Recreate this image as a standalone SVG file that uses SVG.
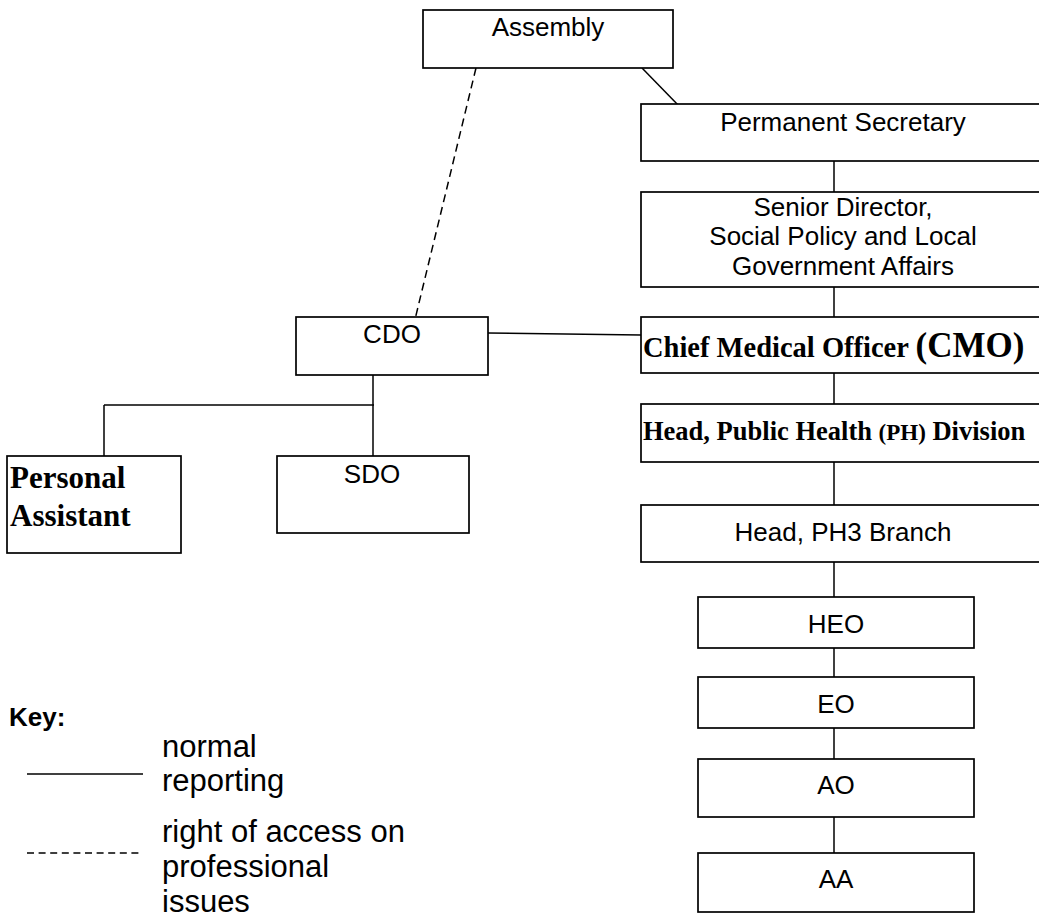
<svg xmlns="http://www.w3.org/2000/svg" width="1039" height="923" viewBox="0 0 1039 923">
  <style>
    .box { fill: #fff; stroke: #000; stroke-width: 1.7; }
    .ln { stroke: #000; stroke-width: 1.5; fill: none; }
    .dash { stroke: #000; stroke-width: 1.5; fill: none; stroke-dasharray: 8 5; }
    .t { font-family: "Liberation Sans", Arial, sans-serif; font-size: 26px; fill: #000; }
    .c { text-anchor: middle; }
    .tb { font-family: "Liberation Serif", "Times New Roman", serif; font-weight: bold; fill: #000; }
    .key { font-family: "Liberation Sans", Arial, sans-serif; font-size: 31px; fill: #000; }
  </style>

  <!-- connectors -->
  <g id="connectors">
    <line class="dash" x1="476" y1="68" x2="410" y2="340"/>
    <line class="ln" x1="642" y1="68" x2="680" y2="107"/>
    <line class="ln" x1="834" y1="156" x2="834" y2="194"/>
    <line class="ln" x1="834" y1="282" x2="834" y2="319"/>
    <line class="ln" x1="834" y1="368" x2="834" y2="407"/>
    <line class="ln" x1="834" y1="457" x2="834" y2="508"/>
    <line class="ln" x1="834" y1="557" x2="834" y2="598"/>
    <line class="ln" x1="834" y1="646" x2="834" y2="681"/>
    <line class="ln" x1="834" y1="726" x2="834" y2="763"/>
    <line class="ln" x1="834" y1="813" x2="834" y2="854"/>
    <line class="ln" x1="488" y1="333" x2="641" y2="335"/>
    <line class="ln" x1="373" y1="369" x2="373" y2="466"/>
    <line class="ln" x1="104" y1="405" x2="374" y2="405"/>
    <line class="ln" x1="104" y1="405" x2="104" y2="463"/>
  </g>

  <g id="assembly">
    <rect class="box" x="423" y="10" width="250" height="58"/>
    <text class="t c" x="548" y="36">Assembly</text>
  </g>

  <g id="permanent-secretary">
    <rect class="box" x="641" y="104" width="410" height="57"/>
    <text class="t c" x="843" y="131">Permanent Secretary</text>
  </g>

  <g id="senior-director">
    <rect class="box" x="641" y="192" width="410" height="95"/>
    <text class="t c" x="843" y="216">Senior Director,</text>
    <text class="t c" x="843" y="245">Social Policy and Local</text>
    <text class="t c" x="843" y="275">Government Affairs</text>
  </g>

  <g id="cmo">
    <rect class="box" x="641" y="317" width="410" height="56"/>
    <text class="tb" x="643" y="357" font-size="28.5">Chief Medical Officer <tspan font-size="35">(CMO)</tspan></text>
  </g>

  <g id="head-ph-division">
    <rect class="box" x="641" y="404" width="410" height="58"/>
    <text class="tb" x="643" y="440" font-size="26.5">Head, Public Health <tspan font-size="23">(PH)</tspan> Division</text>
  </g>

  <g id="head-ph3-branch">
    <rect class="box" x="641" y="505" width="410" height="57"/>
    <text class="t c" x="843" y="541">Head, PH3 Branch</text>
  </g>

  <g id="heo">
    <rect class="box" x="698" y="597" width="276" height="51"/>
    <text class="t c" x="836" y="633">HEO</text>
  </g>

  <g id="eo">
    <rect class="box" x="698" y="677" width="276" height="51"/>
    <text class="t c" x="836" y="713">EO</text>
  </g>

  <g id="ao">
    <rect class="box" x="698" y="759" width="276" height="58"/>
    <text class="t c" x="836" y="794">AO</text>
  </g>

  <g id="aa">
    <rect class="box" x="698" y="853" width="276" height="59"/>
    <text class="t c" x="836" y="888">AA</text>
  </g>

  <g id="cdo">
    <rect class="box" x="296" y="317" width="192" height="58"/>
    <text class="t c" x="392" y="343">CDO</text>
  </g>

  <g id="personal-assistant">
    <rect class="box" x="7" y="456" width="174" height="97"/>
    <text class="tb" x="10" y="488" font-size="31">Personal</text>
    <text class="tb" x="10" y="526" font-size="31">Assistant</text>
  </g>

  <g id="sdo">
    <rect class="box" x="277" y="456" width="192" height="77"/>
    <text class="t c" x="372" y="483">SDO</text>
  </g>

  <g id="key">
    <text x="9" y="726" font-family="Liberation Sans, Arial, sans-serif" font-size="26" font-weight="bold">Key:</text>
    <line class="ln" x1="27" y1="774" x2="143" y2="774"/>
    <text class="key" x="162" y="757">normal</text>
    <text class="key" x="162" y="791">reporting</text>
    <line class="ln" x1="27" y1="853" x2="143" y2="853" stroke-dasharray="7 4.6"/>
    <text class="key" x="162" y="842">right of access on</text>
    <text class="key" x="162" y="877">professional</text>
    <text class="key" x="162" y="912">issues</text>
  </g>
</svg>
